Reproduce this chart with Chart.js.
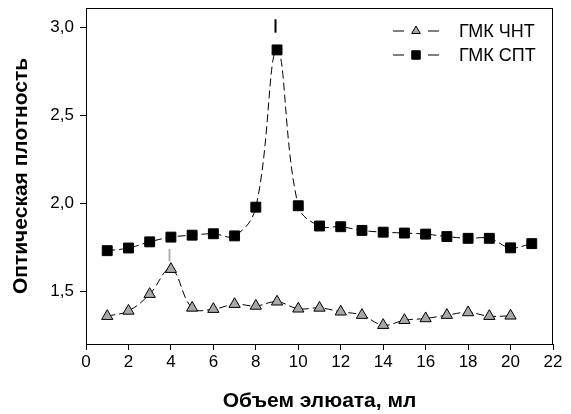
<!DOCTYPE html>
<html>
<head>
<meta charset="utf-8">
<script src="https://cdn.jsdelivr.net/npm/chart.js@4.4.1/dist/chart.umd.min.js"></script>
<style>
  html, body { margin: 0; padding: 0; background: #fff; }
  #wrap { width: 571px; height: 414px; position: relative; }
</style>
</head>
<body>
<div id="wrap"><canvas id="chart"></canvas></div>
<script>
// elution volume, ml
const volumeChnt = [1, 2, 3, 4, 5, 6, 7, 8, 9, 10, 11, 12, 13, 14, 15, 16, 17, 18, 19, 20];
const densityChnt = [1.358, 1.388, 1.483, 1.625, 1.405, 1.398, 1.426, 1.416, 1.44, 1.40,
                     1.405, 1.383, 1.364, 1.307, 1.335, 1.345, 1.364, 1.379, 1.358, 1.36];
const volumeSpt = [1, 2, 3, 4, 5, 6, 7, 8, 9, 10, 11, 12, 13, 14, 15, 16, 17, 18, 19, 20, 21];
const densitySpt = [1.73, 1.745, 1.78, 1.807, 1.818, 1.826, 1.814, 1.977, 2.87, 1.985,
                    1.87, 1.866, 1.845, 1.835, 1.83, 1.824, 1.81, 1.80, 1.80, 1.746, 1.77];
const seriesLabels = ['ГМК ЧНТ', 'ГМК СПТ'];
const xTicks = [0, 2, 4, 6, 8, 10, 12, 14, 16, 18, 20, 22];
const yTicks = [1.5, 2.0, 2.5, 3.0];
// small error marks above the two peaks
const markX = [4, 9];
const markLow = [1.67, 2.968];
const markHigh = [1.74, 3.044];
const markColor = ['#b0b0b0', '#000000'];

const FONT = "'Liberation Sans', Arial, sans-serif";

const toPoints = (xs, ys) => xs.map((x, i) => ({ x: x, y: ys[i] }));

const extras = {
    id: 'extras',
    afterDatasetsDraw(chart) {
        const ctx = chart.ctx;
        const a = chart.chartArea;
        const xs = chart.scales.x, ys = chart.scales.y;
        ctx.save();
        // frame
        ctx.strokeStyle = '#000';
        ctx.lineWidth = 1;
        ctx.strokeRect(a.left + 0.5, a.top + 0.5, a.right - a.left - 1, a.bottom - a.top);
        // peak marks
        markX.forEach((x, i) => {
            const px = Math.round(xs.getPixelForValue(x)) - 1.5;
            ctx.strokeStyle = markColor[i];
            ctx.lineWidth = 2;
            ctx.beginPath();
            ctx.moveTo(px, ys.getPixelForValue(markLow[i]));
            ctx.lineTo(px, ys.getPixelForValue(markHigh[i]));
            ctx.stroke();
        });
        // legend: line - marker - line, then label
        const rows = [31, 55];
        chart.data.datasets.forEach((ds, i) => {
            const y = rows[i];
            ctx.strokeStyle = '#000';
            ctx.lineWidth = 1;
            ctx.setLineDash([]);
            ctx.beginPath();
            ctx.moveTo(393, y); ctx.lineTo(404, y);
            ctx.moveTo(428, y); ctx.lineTo(439, y);
            ctx.stroke();
            ctx.fillStyle = ds.backgroundColor;
            ctx.strokeStyle = '#000';
            Chart.helpers.drawPoint(ctx, {
                pointStyle: ds.pointStyle,
                radius: ds.legendRadius,
                borderWidth: 1
            }, 416, y);
            ctx.fillStyle = '#000';
            ctx.font = '18px ' + FONT;
            ctx.textBaseline = 'middle';
            ctx.fillText(ds.label, 459, y + 1);
        });
        ctx.restore();
    }
};

new Chart(document.getElementById('chart'), {
    type: 'line',
    data: {
        datasets: [
            {
                label: seriesLabels[0],
                data: toPoints(volumeChnt, densityChnt),
                borderColor: '#000',
                borderWidth: 1,
                borderDash: [8, 4],
                backgroundColor: '#a8a8a8',
                pointBackgroundColor: '#a8a8a8',
                pointBorderColor: '#000',
                pointBorderWidth: 1,
                pointStyle: 'triangle',
                pointRadius: 6.5,
                legendRadius: 5,
                tension: 0.4,
                fill: false
            },
            {
                label: seriesLabels[1],
                data: toPoints(volumeSpt, densitySpt),
                borderColor: '#000',
                borderWidth: 1,
                borderDash: [8, 4],
                backgroundColor: '#000',
                pointBackgroundColor: '#000',
                pointBorderColor: '#000',
                pointBorderWidth: 1,
                pointStyle: 'rect',
                pointRadius: 7,
                legendRadius: 6,
                tension: 0.4,
                fill: false
            }
        ]
    },
    options: {
        responsive: true,
        maintainAspectRatio: false,
        animation: false,
        layout: { padding: { top: 7, right: 18, left: 0, bottom: 0 } },
        plugins: {
            legend: { display: false },
            tooltip: { enabled: false }
        },
        scales: {
            x: {
                type: 'linear',
                min: 0,
                max: 22,
                afterBuildTicks: s => { s.ticks = xTicks.map(v => ({ value: v })); },
                afterFit: s => { s.height = 70; s.paddingLeft = 0; s.paddingRight = 0; },
                grid: { display: true, drawOnChartArea: false, drawTicks: true, tickLength: 6, color: '#000' },
                border: { display: true, color: '#000', width: 1 },
                ticks: { color: '#000', font: { family: FONT, size: 17 }, padding: 2, maxRotation: 0 },
                title: { display: true, text: 'Объем элюата, мл', color: '#000',
                         font: { family: FONT, size: 21, weight: 'bold' }, padding: { top: 8, bottom: 0 } }
            },
            y: {
                type: 'linear',
                min: 1.2,
                max: 3.108,
                afterBuildTicks: s => { s.ticks = yTicks.map(v => ({ value: v })); },
                afterFit: s => { s.width = 86; s.paddingTop = 0; s.paddingBottom = 0; },
                grid: { display: true, drawOnChartArea: false, drawTicks: true, tickLength: 6, color: '#000' },
                border: { display: true, color: '#000', width: 1 },
                ticks: { color: '#000', font: { family: FONT, size: 17 }, padding: 6,
                         callback: v => v.toFixed(1).replace('.', ',') },
                title: { display: true, text: 'Оптическая плотность', color: '#000',
                         font: { family: FONT, size: 21, weight: 'bold' }, padding: { top: 9, bottom: 4 } }
            }
        }
    },
    plugins: [extras]
});
</script>
</body>
</html>
